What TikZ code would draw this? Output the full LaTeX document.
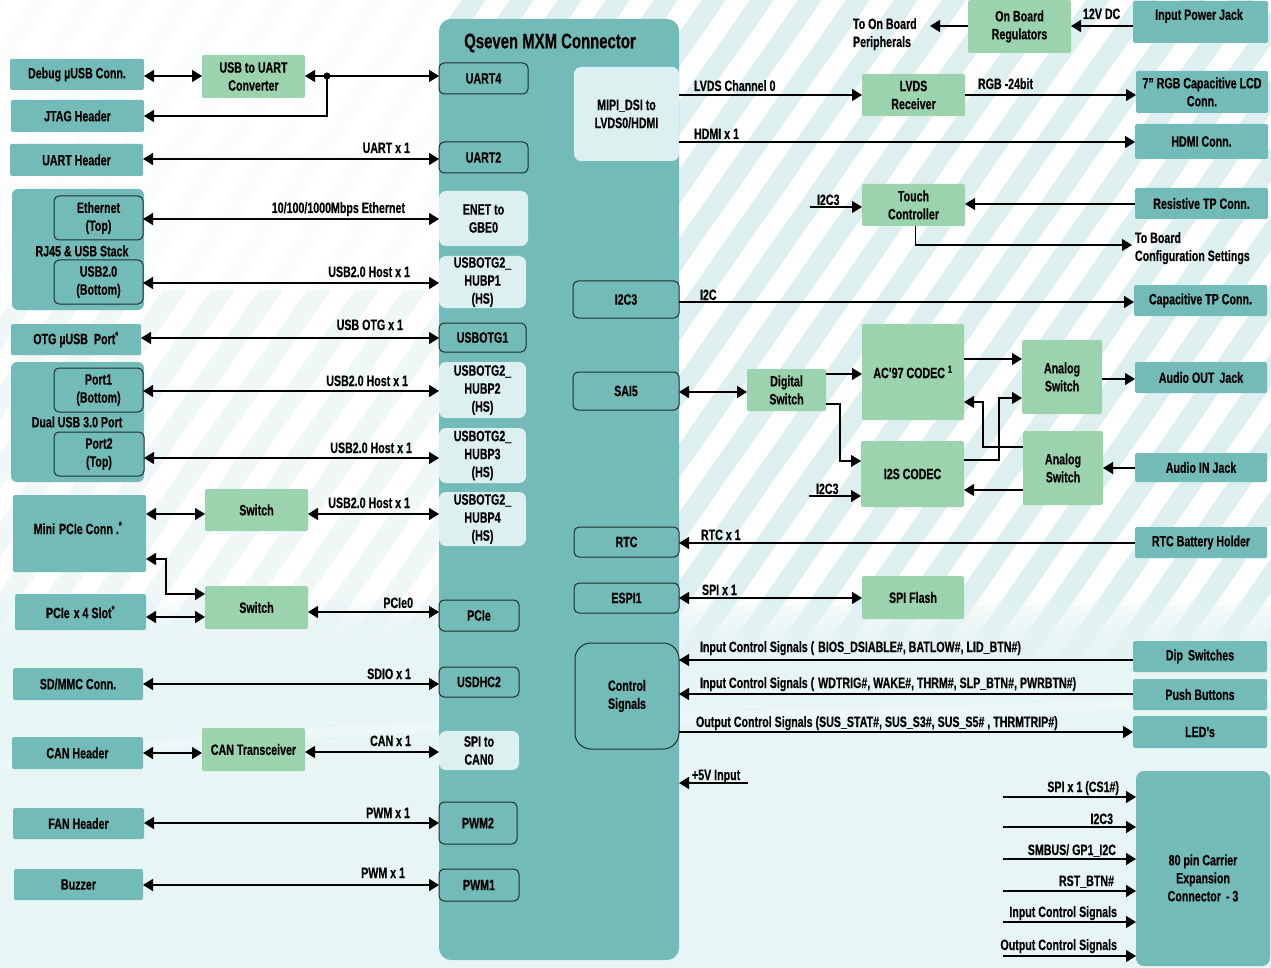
\documentclass[tikz,border=0pt]{standalone}
\usepackage{fontspec}
\setmainfont{Liberation Sans}[FakeStretch=0.71, BoldFeatures={FakeBold=0.4}]
\usetikzlibrary{arrows.meta}
\definecolor{cTeal}{HTML}{72BBB9}
\definecolor{cGreen}{HTML}{9BD3AE}
\definecolor{cLight}{HTML}{DCF0F0}
\definecolor{cOutl}{HTML}{1E2E2E}
\definecolor{cStripe}{HTML}{DDEFEF}
\definecolor{cLow}{HTML}{E8F5F5}
\newcommand\bx[7]{\node[#1,minimum width={(#5)-(#3)},minimum height={(#6)-(#4)}] (#2) at ({((#3)+(#5))/2},{((#4)+(#6))/2}) {#7};}
\tikzset{
  base/.style={inner sep=0pt, outer sep=0pt, align=center, font=\bfseries\fontsize{15}{18}\selectfont, text=black},
  tealbox/.style={base, fill=cTeal, rounded corners=1.5pt},
  greenbox/.style={base, fill=cGreen, rounded corners=2pt},
  lightbox/.style={base, fill=cLight, rounded corners=7pt},
  portbox/.style={base, fill=cTeal, draw=cOutl, line width=1pt, rounded corners=5pt},
  groupbox/.style={base, fill=cTeal, rounded corners=6pt},
  ctrlbox/.style={portbox, rounded corners=16pt},
  bigbox/.style={base, fill=cTeal, rounded corners=12pt},
  lbl/.style={inner sep=0pt, outer sep=0pt, font=\bfseries\fontsize{15}{18}\selectfont, text=black},
  arr/.style={line width=1.6pt, -{Triangle[length=10pt,width=12pt]}},
  bi/.style={line width=1.6pt, {Triangle[length=10pt,width=12pt]}-{Triangle[length=10pt,width=12pt]}},
  arrthin/.style={line width=1.1pt, -{Triangle[length=10pt,width=12pt]}},
}
\begin{document}
\begin{tikzpicture}[x=1pt,y=-1pt]
\useasboundingbox (0,0) rectangle (1271,968);
% background
\fill[white] (0,0) rectangle (1271,968);
\begin{scope}
  \clip (0,0) rectangle (1271,660);
  \foreach \k in {-12,...,28} {
    \fill[cStripe] ({\k*48},660) -- ({\k*48+24},660) -- ({\k*48+24+462},0) -- ({\k*48+462},0) -- cycle;
  }
\end{scope}
\fill[white,opacity=0.9] (0,0) rectangle (439,290);
\fill[white,opacity=0.55] (0,290) rectangle (439,660);
\foreach \i in {0,...,11} {
  \fill[cLow, opacity=0.25] (0,{600+\i*6}) rectangle (1271,968);
}
\fill[white,opacity=0.3] (0,760) .. controls (400,700) and (900,720) .. (1271,690) -- (1271,700) .. controls (900,730) and (400,710) .. (0,770) -- cycle;

% Qseven connector
\bx{bigbox}{qseven}{439}{19}{679}{960}{}
\node[base, font=\bfseries\fontsize{21}{24}\selectfont] (title) at (550,43) {Qseven MXM Connector};
\bx{portbox}{uart4}{439}{63}{528}{94}{UART4}
\bx{portbox}{uart2}{439}{142}{528}{173}{UART2}
\bx{lightbox}{enet}{439}{191}{528}{246}{ENET to\\GBE0}
\bx{lightbox}{hubp1}{439}{256}{526}{308}{USBOTG2\_\\HUBP1\\(HS)}
\bx{portbox}{usbotg1}{439}{323}{526}{352}{USBOTG1}
\bx{lightbox}{hubp2}{439}{362}{526}{418}{USBOTG2\_\\HUBP2\\(HS)}
\bx{lightbox}{hubp3}{439}{428}{526}{483}{USBOTG2\_\\HUBP3\\(HS)}
\bx{lightbox}{hubp4}{439}{492}{526}{546}{USBOTG2\_\\HUBP4\\(HS)}
\bx{portbox}{pcie}{439}{600}{519}{631}{PCIe}
\bx{portbox}{usdhc2}{439}{667}{519}{697}{USDHC2}
\bx{lightbox}{spican}{439}{731}{519}{770}{SPI to\\CAN0}
\bx{portbox}{pwm2}{439}{802}{517}{844}{PWM2}
\bx{portbox}{pwm1}{439}{869}{519}{901}{PWM1}
\bx{lightbox}{mipi}{574}{67}{679}{161}{MIPI\_DSI to\\LVDS0/HDMI}
\bx{portbox}{i2c3}{573}{281}{679}{318}{I2C3}
\bx{portbox}{sai5}{573}{372}{679}{410}{SAI5}
\bx{portbox}{rtc}{574}{527}{679}{557}{RTC}
\bx{portbox}{espi1}{574}{583}{679}{613}{ESPI1}
\bx{ctrlbox}{ctrl}{575}{643}{679}{749}{Control\\Signals}

% left column
\bx{tealbox}{debug}{10}{59}{144}{90}{Debug µUSB Conn.}
\bx{tealbox}{jtag}{11}{100}{144}{132}{JTAG Header}
\bx{tealbox}{uarth}{10}{144}{143}{176}{UART Header}
\bx{groupbox}{rj45}{12}{189}{144}{310}{}
\bx{portbox}{eth}{54}{196}{143}{240}{Ethernet\\(Top)}
\bx{portbox}{usbb}{54}{260}{143}{304}{USB2.0\\(Bottom)}
\node[base] (rj45l) at (82,251) {RJ45 \& USB Stack};
\bx{tealbox}{otg}{11}{324}{141}{355}{OTG µUSB\hspace{6pt}Port\textsuperscript{*}}
\bx{groupbox}{dual}{11}{362}{144}{482}{}
\bx{portbox}{port1}{54}{368}{143}{412}{Port1\\(Bottom)}
\bx{portbox}{port2}{54}{432}{144}{476}{Port2\\(Top)}
\node[base] (duall) at (77,422) {Dual USB 3.0 Port};
\bx{tealbox}{minipcie}{13}{495}{146}{572}{}
\node[base] (minil) at (78,528) {Mini\hspace{4pt}PCIe Conn .\textsuperscript{*}};
\bx{tealbox}{pcieslot}{15}{594}{146}{630}{PCIe\hspace{4pt}x 4 Slot\textsuperscript{*}}
\bx{tealbox}{sdmmc}{13}{668}{143}{700}{SD/MMC Conn.}
\bx{tealbox}{canh}{12}{737}{143}{769}{CAN Header}
\bx{tealbox}{fan}{13}{808}{144}{839}{FAN Header}
\bx{tealbox}{buzzer}{14}{869}{143}{900}{Buzzer}
\bx{greenbox}{u2u}{202}{55}{305}{98}{USB to UART\\Converter}
\bx{greenbox}{sw1}{205}{489}{308}{531}{Switch}
\bx{greenbox}{sw2}{205}{586}{308}{629}{Switch}
\bx{greenbox}{cant}{202}{728}{305}{771}{CAN Transceiver}

% right side
\bx{greenbox}{reg}{968}{0}{1071}{53}{On Board\\Regulators}
\bx{tealbox}{pwrjack}{1133}{1}{1268}{43}{}
\node[base] (pwrl) at (1199,16) {Input Power Jack};
\bx{greenbox}{lvdsr}{862}{74}{965}{116}{LVDS\\Receiver}
\bx{greenbox}{touch}{862}{184}{965}{226}{Touch\\Controller}
\bx{greenbox}{dsw}{747}{369}{826}{411}{Digital\\Switch}
\bx{greenbox}{ac97}{862}{324}{964}{420}{AC’97 CODEC\hspace{3pt}\textsuperscript{1}}
\bx{greenbox}{i2s}{861}{441}{964}{507}{I2S CODEC}
\bx{greenbox}{asw1}{1022}{340}{1102}{414}{Analog\\Switch}
\bx{greenbox}{asw2}{1023}{431}{1103}{505}{Analog\\Switch}
\bx{greenbox}{spif}{862}{576}{964}{619}{SPI Flash}
\bx{tealbox}{lcd}{1136}{71}{1268}{113}{7” RGB Capacitive LCD\\Conn.}
\bx{tealbox}{hdmi}{1135}{124}{1268}{159}{HDMI Conn.}
\bx{tealbox}{restp}{1135}{188}{1268}{219}{Resistive TP Conn.}
\bx{tealbox}{captp}{1134}{285}{1267}{316}{Capacitive TP Conn.}
\bx{tealbox}{aout}{1135}{362}{1267}{393}{Audio OUT\hspace{5pt}Jack}
\bx{tealbox}{ain}{1135}{453}{1267}{482}{Audio IN Jack}
\bx{tealbox}{rtcb}{1135}{527}{1267}{558}{RTC Battery Holder}
\bx{tealbox}{dip}{1133}{641}{1267}{672}{Dip\hspace{5pt}Switches}
\bx{tealbox}{push}{1133}{679}{1267}{710}{Push Buttons}
\bx{tealbox}{leds}{1133}{716}{1267}{748}{LED’s}
\node[base, fill=cTeal, rounded corners=8pt, minimum width=134, minimum height=195] (exp) at (1203,868.5) {};
\node[base] (expl) at (1203,878) {80 pin Carrier\\Expansion\\Connector\hspace{5pt}- 3};

% left connectors
\draw[bi] (debug.east |- 0,76) -- (u2u.west |- 0,76);
\coordinate (dot) at (327,76);
\draw[arr] (dot) -- (u2u.east |- 0,76);
\draw[arr] (dot) -- (uart4.west |- 0,76);
\draw[arr] (dot) |- (jtag.east |- 0,116);
\fill (dot) circle (3.5pt);
\draw[bi] (uarth.east |- 0,159) -- (uart2.west |- 0,159);
\draw[bi] (eth.east |- 0,219) -- (enet.west |- 0,219);
\draw[bi] (usbb.east |- 0,283) -- (hubp1.west |- 0,283);
\draw[bi] (otg.east |- 0,338) -- (usbotg1.west |- 0,338);
\draw[bi] (port1.east |- 0,391) -- (hubp2.west |- 0,391);
\draw[bi] (port2.east |- 0,458) -- (hubp3.west |- 0,458);
\draw[bi] (minipcie.east |- 0,514) -- (sw1.west |- 0,514);
\draw[bi] (sw1.east |- 0,514) -- (hubp4.west |- 0,514);
\draw[bi] (minipcie.east |- 0,559) -- (166,559) |- (sw2.west |- 0,594);
\draw[bi] (pcieslot.east |- 0,617) -- (sw2.west |- 0,617);
\draw[bi] (sw2.east |- 0,612) -- (pcie.west |- 0,612);
\draw[bi] (sdmmc.east |- 0,684) -- (usdhc2.west |- 0,684);
\draw[bi] (canh.east |- 0,753) -- (cant.west |- 0,753);
\draw[bi] (cant.east |- 0,752) -- (spican.west |- 0,752);
\draw[bi] (fan.east |- 0,823) -- (pwm2.west |- 0,823);
\draw[bi] (buzzer.east |- 0,885) -- (pwm1.west |- 0,885);

% left labels
\node[lbl, anchor=base east] (lUART) at (410,153) {UART x 1};
\node[lbl, anchor=base east] (lEth) at (405,213) {10/100/1000Mbps Ethernet};
\node[lbl, anchor=base east] (lH1) at (410,277) {USB2.0 Host x 1};
\node[lbl, anchor=base east] (lOTG) at (403,330) {USB OTG x 1};
\node[lbl, anchor=base east] (lH2) at (408,386) {USB2.0 Host x 1};
\node[lbl, anchor=base east] (lH3) at (412,453) {USB2.0 Host x 1};
\node[lbl, anchor=base east] (lH4) at (410,508) {USB2.0 Host x 1};
\node[lbl, anchor=base east] (lPCIe) at (413,608) {PCIe0};
\node[lbl, anchor=base east] (lSDIO) at (411,679) {SDIO x 1};
\node[lbl, anchor=base east] (lCAN) at (411,746) {CAN x 1};
\node[lbl, anchor=base east] (lPWM2) at (410,818) {PWM x 1};
\node[lbl, anchor=base east] (lPWM1) at (405,878) {PWM x 1};

% right connectors
\coordinate (toobtip) at (930,26);
\coordinate (cfgtip) at (1132,245);
\coordinate (i2c3a) at (810,207);
\coordinate (i2c3b) at (809,496);
\coordinate (p5a) at (748,783);
\draw[arr] (pwrjack.west |- 0,26) -- (reg.east |- 0,26);
\draw[arr] (reg.west |- 0,26) -- (toobtip);
\draw[arr] (mipi.east |- 0,95) -- (lvdsr.west |- 0,95);
\draw[arrthin] (lvdsr.east |- 0,95) -- (lcd.west |- 0,95);
\draw[arr] (mipi.east |- 0,142) -- (hdmi.west |- 0,142);
\draw[arrthin] (i2c3a) -- (touch.west |- 0,207);
\draw[arrthin] (restp.west |- 0,204) -- (touch.east |- 0,204);
\draw[arrthin] ([xshift=2pt]touch.south) |- (cfgtip);
\draw[arr] (i2c3.east |- 0,302) -- (captp.west |- 0,302);
\draw[bi] (sai5.east |- 0,392) -- (dsw.west |- 0,392);
\draw[arrthin] (dsw.east |- 0,374) -- (ac97.west |- 0,374);
\draw[arrthin] (dsw.east |- 0,404) -- (840,404) |- (i2s.west |- 0,461);
\draw[arrthin] (i2c3b) -- (i2s.west |- 0,496);
\draw[arrthin] (ac97.east |- 0,359) -- (asw1.west |- 0,359);
\draw[arrthin] (asw1.east |- 0,379) -- (aout.west |- 0,379);
\draw[arrthin] (asw2.west |- 0,447) -| (983,402) -- (ac97.east |- 0,402);
\draw[arrthin] (i2s.east |- 0,460) -| (999,398) -- (asw1.west |- 0,398);
\draw[arrthin] (asw2.west |- 0,490) -- (i2s.east |- 0,490);
\draw[arrthin] (ain.west |- 0,468) -- (asw2.east |- 0,468);
\draw[arr] (rtcb.west |- 0,543) -- (rtc.east |- 0,543);
\draw[bi] (espi1.east |- 0,598) -- (spif.west |- 0,598);
\draw[arr] (dip.west |- 0,660) -- (ctrl.east |- 0,660);
\draw[arr] (push.west |- 0,694) -- (ctrl.east |- 0,694);
\draw[arr] (ctrl.east |- 0,732) -- (leds.west |- 0,732);
\draw[arr] (p5a) -- (qseven.east |- 0,783);
\foreach \n/\yy in {e1/797,e2/827,e3/859,e4/891,e5/922,e6/956} {
  \coordinate (\n) at (1003,\yy);
  \draw[arr] (\n) -- (exp.west |- 0,\yy);
}

% right labels
\node[lbl, anchor=base west] (l12V) at (1083,19) {12V DC};
\node[lbl, anchor=base west] (ltoob1) at (853,29) {To On Board};
\node[lbl, anchor=base west] (ltoob2) at (853,47) {Peripherals};
\node[lbl, anchor=base west] (lLVDS) at (694,91) {LVDS Channel 0};
\node[lbl, anchor=base west] (lHDMI) at (694,139) {HDMI x 1};
\node[lbl, anchor=base west] (lRGB) at (978,89) {RGB -24bit};
\node[lbl, anchor=base west] (lI2C3a) at (817,205) {I2C3};
\node[lbl, anchor=base west] (ltb1) at (1135,243) {To Board};
\node[lbl, anchor=base west] (ltb2) at (1135,261) {Configuration Settings};
\node[lbl, anchor=base west] (lI2C) at (700,300) {I2C};
\node[lbl, anchor=base west] (lI2C3b) at (816,494) {I2C3};
\node[lbl, anchor=base west] (lRTC) at (701,540) {RTC x 1};
\node[lbl, anchor=base west] (lSPI) at (702,595) {SPI x 1};
\node[lbl, anchor=base west] (lIn1) at (700,652) {Input Control Signals (\hspace{4pt}BIOS\_DSIABLE\#, BATLOW\#, LID\_BTN\#)};
\node[lbl, anchor=base west] (lIn2) at (700,688) {Input Control Signals (\hspace{4pt}WDTRIG\#, WAKE\#, THRM\#, SLP\_BTN\#, PWRBTN\#)};
\node[lbl, anchor=base west] (lOut) at (696,727) {Output Control Signals (SUS\_STAT\#, SUS\_S3\#, SUS\_S5\# , THRMTRIP\#)};
\node[lbl, anchor=base west] (l5V) at (692,780) {+5V Input};
\node[lbl, anchor=base east] (le1) at (1119,792) {SPI x 1 (CS1\#)};
\node[lbl, anchor=base east] (le2) at (1113,824) {I2C3};
\node[lbl, anchor=base east] (le3) at (1116,855) {SMBUS/ GP1\_I2C};
\node[lbl, anchor=base east] (le4) at (1114,886) {RST\_BTN\#};
\node[lbl, anchor=base east] (le5) at (1117,917) {Input Control Signals};
\node[lbl, anchor=base east] (le6) at (1117,950) {Output Control Signals};
\end{tikzpicture}
\end{document}
